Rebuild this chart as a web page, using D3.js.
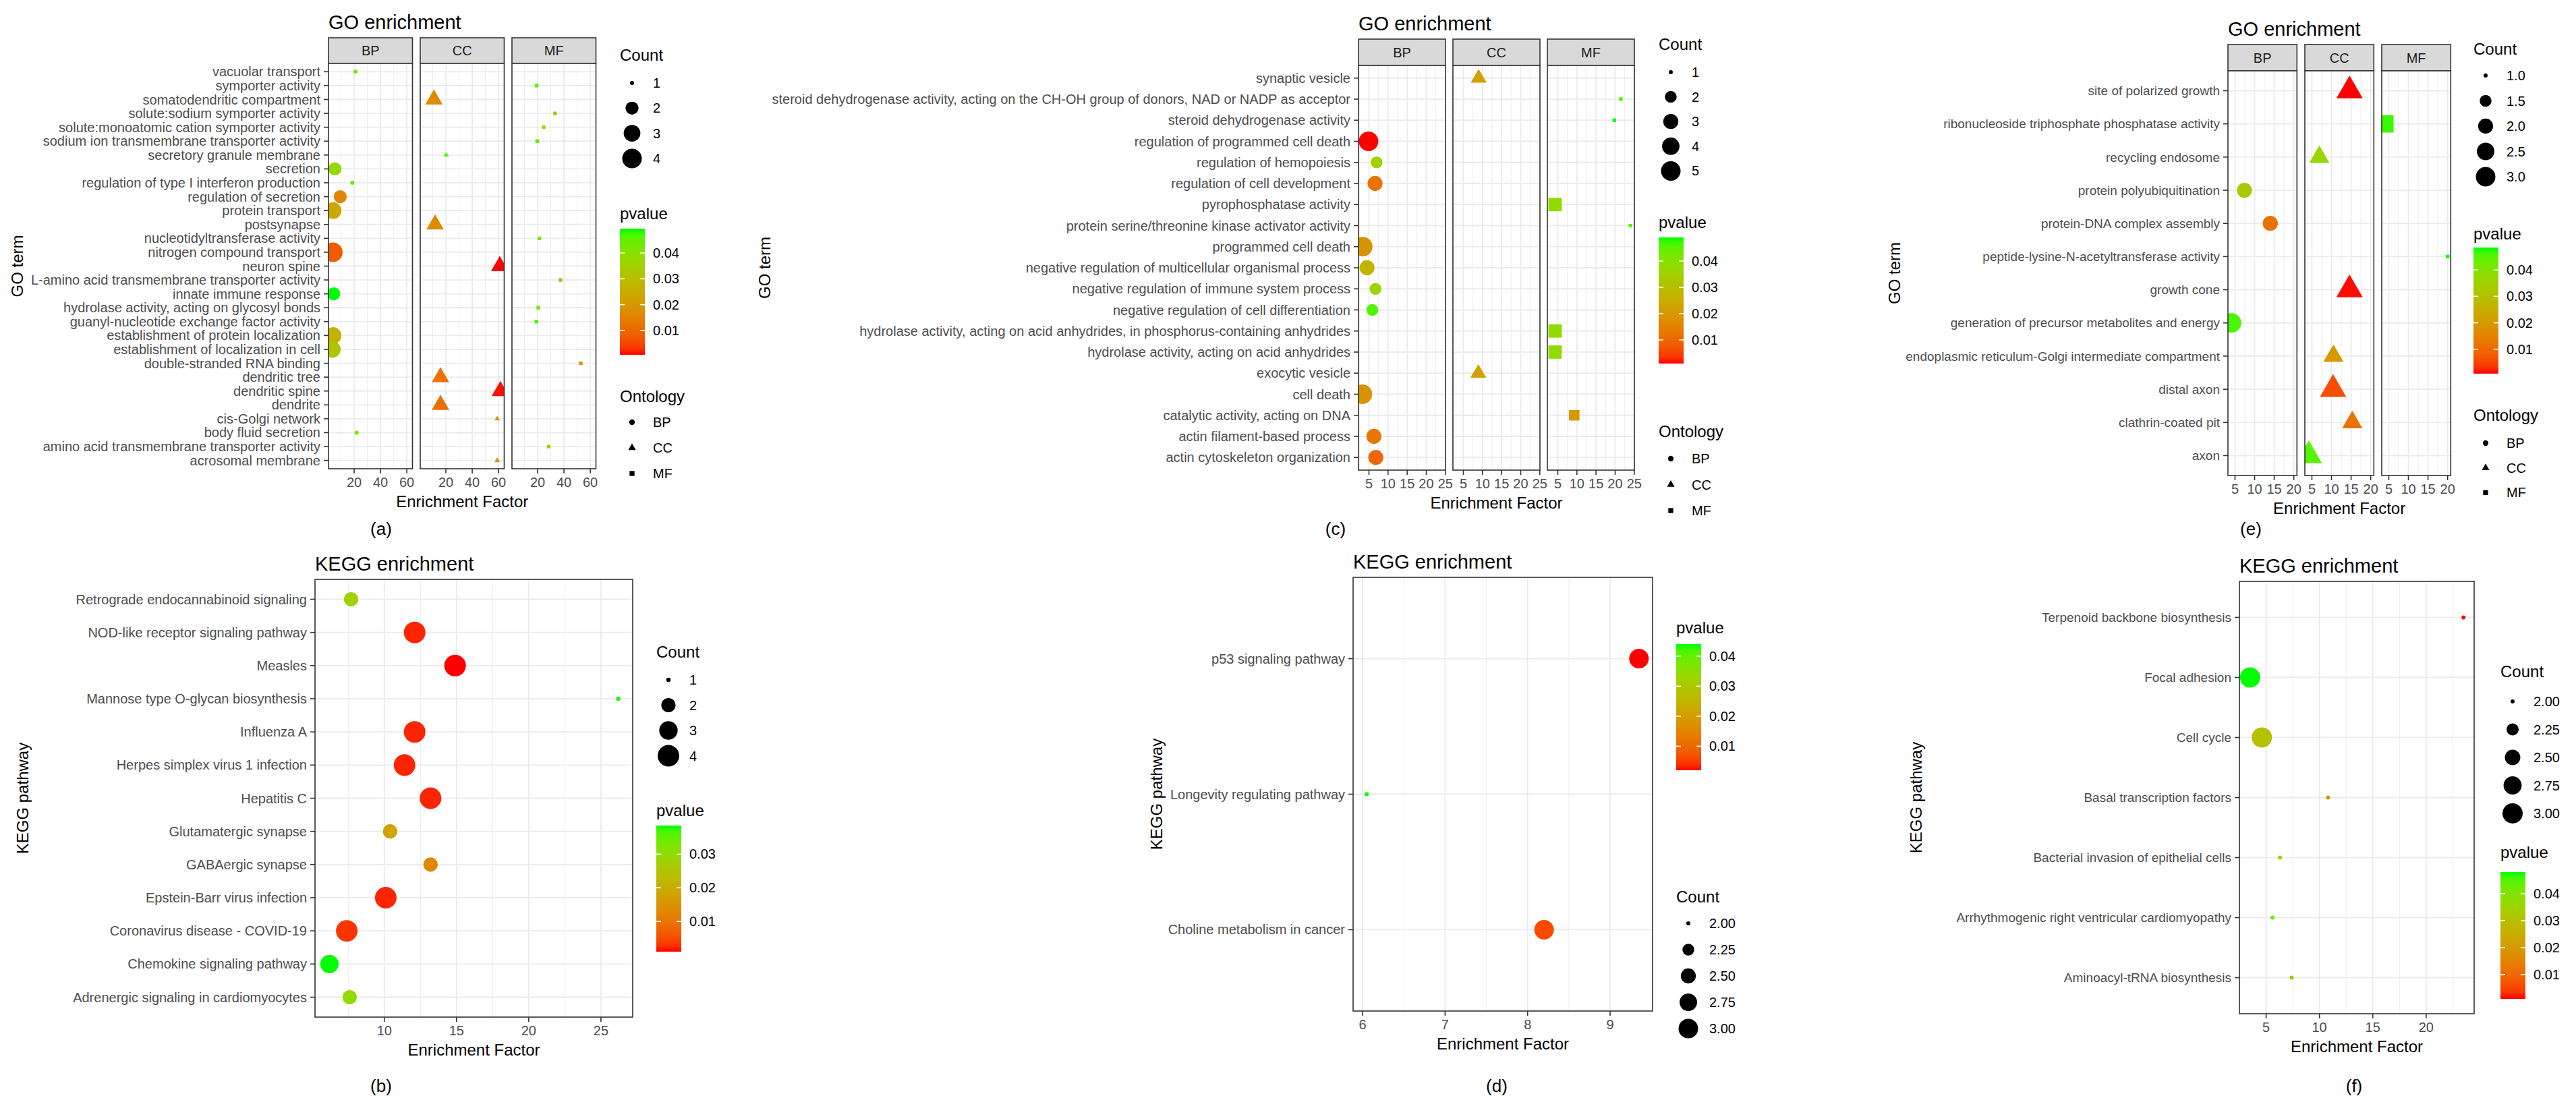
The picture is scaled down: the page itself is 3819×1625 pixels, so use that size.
<!DOCTYPE html>
<html><head><meta charset="utf-8">
<script src="https://cdn.jsdelivr.net/npm/d3@7/dist/d3.min.js"></script>
<style>
body{margin:0;background:#fff}
svg{display:block}
text{font-family:"Liberation Sans",Arial,sans-serif}
</style></head>
<body><svg id="chart" width="3819" height="1625"></svg>
<script>
// ---------------- DATA ----------------
// (a) GO enrichment
const aTerms = ["vacuolar transport","symporter activity","somatodendritic compartment","solute:sodium symporter activity","solute:monoatomic cation symporter activity","sodium ion transmembrane transporter activity","secretory granule membrane","secretion","regulation of type I interferon production","regulation of secretion","protein transport","postsynapse","nucleotidyltransferase activity","nitrogen compound transport","neuron spine","L-amino acid transmembrane transporter activity","innate immune response","hydrolase activity, acting on glycosyl bonds","guanyl-nucleotide exchange factor activity","establishment of protein localization","establishment of localization in cell","double-stranded RNA binding","dendritic tree","dendritic spine","dendrite","cis-Golgi network","body fluid secretion","amino acid transmembrane transporter activity","acrosomal membrane"];
const aOntology = ["BP","MF","CC","MF","MF","MF","CC","BP","BP","BP","BP","CC","MF","BP","CC","MF","BP","MF","MF","BP","BP","MF","CC","CC","CC","CC","BP","MF","CC"];
const aFactor = [21.0,19.3,10.9,33.2,24.6,19.7,20.3,5.4,18.6,9.4,4.0,11.8,21.4,3.8,60.9,37.3,4.5,20.5,19.1,3.9,3.4,52.8,15.9,61.4,15.9,59.0,21.9,28.4,59.0];
const aCount = [1,1,2,1,1,1,1,2,1,2,3,2,1,4,2,1,2,1,1,3,3,1,2,2,2,1,1,1,1];
const aPvalue = [0.044,0.046,0.017,0.030,0.036,0.044,0.046,0.038,0.046,0.016,0.024,0.017,0.040,0.008,0.0006,0.029,0.0494,0.043,0.047,0.027,0.032,0.020,0.012,0.001,0.011,0.020,0.042,0.034,0.020];
const aXTicks = [20,40,60];
const aCountBreaks = [1,2,3,4];
const aCountLabels = ["1","2","3","4"];
const aPTicks = [0.01,0.02,0.03,0.04];

// (b) KEGG enrichment
const bTerms = ["Retrograde endocannabinoid signaling","NOD-like receptor signaling pathway","Measles","Mannose type O-glycan biosynthesis","Influenza A","Herpes simplex virus 1 infection","Hepatitis C","Glutamatergic synapse","GABAergic synapse","Epstein-Barr virus infection","Coronavirus disease - COVID-19","Chemokine signaling pathway","Adrenergic signaling in cardiomyocytes"];
const bFactor = [7.7,12.1,14.9,26.2,12.1,11.4,13.2,10.4,13.2,10.1,7.4,6.2,7.6];
const bCount = [2,4,4,1,4,4,4,2,2,4,4,3,2];
const bPvalue = [0.028,0.002,0.001,0.038,0.002,0.002,0.002,0.018,0.013,0.002,0.003,0.0385,0.030];
const bXTicks = [10,15,20,25];
const bCountBreaks = [1,2,3,4];
const bCountLabels = ["1","2","3","4"];
const bPTicks = [0.01,0.02,0.03];

// (c) GO enrichment
const cTerms = ["synaptic vesicle","steroid dehydrogenase activity, acting on the CH-OH group of donors, NAD or NADP as acceptor","steroid dehydrogenase activity","regulation of programmed cell death","regulation of hemopoiesis","regulation of cell development","pyrophosphatase activity","protein serine/threonine kinase activator activity","programmed cell death","negative regulation of multicellular organismal process","negative regulation of immune system process","negative regulation of cell differentiation","hydrolase activity, acting on acid anhydrides, in phosphorus-containing anhydrides","hydrolase activity, acting on acid anhydrides","exocytic vesicle","cell death","catalytic activity, acting on DNA","actin filament-based process","actin cytoskeleton organization"];
const cOntology = ["CC","MF","MF","BP","BP","BP","MF","MF","BP","BP","BP","BP","MF","MF","CC","BP","MF","BP","BP"];
const cFactor = [9.0,21.5,19.8,4.9,7.0,6.6,4.3,24.0,3.4,4.5,6.7,5.9,4.3,4.3,8.9,3.3,9.3,6.3,6.8];
const cCount = [2,1,1,5,2,3,3,1,5,3,2,2,3,3,2,5,2,3,3];
const cPvalue = [0.022,0.046,0.049,0.001,0.035,0.012,0.038,0.046,0.019,0.027,0.036,0.046,0.038,0.038,0.022,0.019,0.020,0.013,0.010];
const cXTicks = [5,10,15,20,25];
const cCountBreaks = [1,2,3,4,5];
const cCountLabels = ["1","2","3","4","5"];
const cPTicks = [0.01,0.02,0.03,0.04];

// (d) KEGG enrichment
const dTerms = ["p53 signaling pathway","Longevity regulating pathway","Choline metabolism in cancer"];
const dFactor = [9.35,6.05,8.2];
const dCount = [3,2,3];
const dPvalue = [0.002,0.044,0.006];
const dXTicks = [6,7,8,9];
const dCountBreaks = [2,2.25,2.5,2.75,3];
const dCountLabels = ["2.00","2.25","2.50","2.75","3.00"];
const dPTicks = [0.01,0.02,0.03,0.04];

// (e) GO enrichment
const eTerms = ["site of polarized growth","ribonucleoside triphosphate phosphatase activity","recycling endosome","protein polyubiquitination","protein-DNA complex assembly","peptide-lysine-N-acetyltransferase activity","growth cone","generation of precursor metabolites and energy","endoplasmic reticulum-Golgi intermediate compartment","distal axon","clathrin-coated pit","axon"];
const eOntology = ["CC","MF","CC","BP","BP","MF","CC","BP","CC","CC","CC","CC"];
const eFactor = [14.6,4.0,6.9,7.4,14.0,20.0,14.6,4.1,10.5,10.4,15.3,4.2];
const eCount = [3,3,2,2,2,1,3,3,2,3,2,3];
const ePvalue = [0.0008,0.047,0.036,0.032,0.012,0.0484,0.001,0.046,0.020,0.006,0.012,0.045];
const eXTicks = [5,10,15,20];
const eCountBreaks = [1,1.5,2,2.5,3];
const eCountLabels = ["1.0","1.5","2.0","2.5","3.0"];
const ePTicks = [0.01,0.02,0.03,0.04];

// (f) KEGG enrichment
const fTerms = ["Terpenoid backbone biosynthesis","Focal adhesion","Cell cycle","Basal transcription factors","Bacterial invasion of epithelial cells","Arrhythmogenic right ventricular cardiomyopathy","Aminoacyl-tRNA biosynthesis"];
const fFactor = [23.5,3.5,4.6,10.8,6.3,5.6,7.4];
const fCount = [2,3,3,2,2,2,2];
const fPvalue = [0.001,0.048,0.030,0.020,0.034,0.043,0.031];
const fXTicks = [5,10,15,20];
const fCountBreaks = [2,2.25,2.5,2.75,3];
const fCountLabels = ["2.00","2.25","2.50","2.75","3.00"];
const fPTicks = [0.01,0.02,0.03,0.04];

const ontologyLevels = ["BP","CC","MF"];

// ---------------- LAYOUT ----------------
const svg = d3.select("#chart");
const GRID = "#EBEBEB", DARK = "#333333", AXT = "#4D4D4D";
const shapeOf = {BP: d3.symbolCircle, CC: d3.symbolTriangle, MF: d3.symbolSquare};
let clipId = 0;

function drawPlot(L, D) {
  const g = svg.append("g");
  const facets = L.facets;
  const y = d3.scalePoint().domain(D.terms).range([L.top, L.bottom]).padding(0.6);
  const ext = d3.extent(D.factor), span = ext[1] - ext[0];
  const x = d3.scaleLinear().domain([ext[0] - 0.05 * span, ext[1] + 0.05 * span]).range([0, L.facetW]);
  const color = d3.scaleLinear().domain(d3.extent(D.pvalue)).range(["#ff0000", "#00ff00"]).interpolate(d3.interpolateLab);
  const tC = d3.scaleLinear().domain(d3.extent(D.count)).range([0, 1]);
  const dia = d3.scaleSqrt().domain([0, 1]).range([L.dMin, L.dMax]);
  const areaOf = c => Math.PI * Math.pow(dia(tC(c)) / 2, 2);
  const [x0, x1] = x.domain();
  const majors = D.xTicks.filter(v => v >= x0 && v <= x1);
  const stp = D.xTicks[1] - D.xTicks[0];
  const minors = d3.range(D.xTicks[0] - stp / 2, x1 + stp, stp).filter(v => v >= x0 && v <= x1);
  const rows = D.terms.map((t, j) => ({t, o: D.ontology ? D.ontology[j] : "BP", f: D.factor[j], c: D.count[j], p: D.pvalue[j]}));
  const totalW = facets.length * L.facetW + (facets.length - 1) * L.gap;

  facets.forEach((fc, i) => {
    const fx = L.left + i * (L.facetW + L.gap);
    const fg = g.append("g").attr("transform", `translate(${fx},0)`);
    if (fc !== null) {
      fg.append("rect").attr("x", 0).attr("y", L.top - L.stripH).attr("width", L.facetW).attr("height", L.stripH)
        .attr("fill", "#D9D9D9").attr("stroke", DARK).attr("stroke-width", 1.6);
      fg.append("text").attr("x", L.facetW / 2).attr("y", L.top - L.stripH / 2).attr("dy", "0.35em")
        .attr("text-anchor", "middle").attr("font-size", 20).attr("fill", "#1A1A1A").text(fc);
    }
    fg.append("rect").attr("x", 0).attr("y", L.top).attr("width", L.facetW).attr("height", L.bottom - L.top).attr("fill", "#fff");
    fg.selectAll(".mn").data(minors).join("line").attr("x1", d => x(d)).attr("x2", d => x(d))
      .attr("y1", L.top).attr("y2", L.bottom).attr("stroke", GRID).attr("stroke-width", 0.9);
    fg.selectAll(".mj").data(majors).join("line").attr("x1", d => x(d)).attr("x2", d => x(d))
      .attr("y1", L.top).attr("y2", L.bottom).attr("stroke", GRID).attr("stroke-width", 1.8);
    fg.selectAll(".yl").data(D.terms).join("line").attr("x1", 0).attr("x2", L.facetW)
      .attr("y1", d => y(d)).attr("y2", d => y(d)).attr("stroke", GRID).attr("stroke-width", 1.8);
    const cid = "clip" + (clipId++);
    fg.append("clipPath").attr("id", cid).append("rect").attr("x", 0).attr("y", L.top).attr("width", L.facetW).attr("height", L.bottom - L.top);
    fg.append("g").attr("clip-path", `url(#${cid})`).selectAll("path")
      .data(rows.filter(r => fc === null || r.o === fc)).join("path")
      .attr("transform", r => `translate(${x(r.f)},${y(r.t)})`)
      .attr("d", r => d3.symbol(shapeOf[r.o], areaOf(r.c))())
      .attr("fill", r => color(r.p));
    fg.append("rect").attr("x", 0).attr("y", L.top).attr("width", L.facetW).attr("height", L.bottom - L.top)
      .attr("fill", "none").attr("stroke", DARK).attr("stroke-width", 1.6);
    fg.selectAll(".xt").data(majors).join("line").attr("x1", d => x(d)).attr("x2", d => x(d))
      .attr("y1", L.bottom).attr("y2", L.bottom + 7).attr("stroke", DARK).attr("stroke-width", 1.6);
    fg.selectAll(".xl").data(majors).join("text").attr("x", d => x(d)).attr("y", L.bottom + 27)
      .attr("text-anchor", "middle").attr("font-size", 20).attr("fill", AXT).text(d => d);
  });
  // y axis
  g.selectAll(".yt").data(D.terms).join("line").attr("x1", L.left - 7).attr("x2", L.left)
    .attr("y1", d => y(d)).attr("y2", d => y(d)).attr("stroke", DARK).attr("stroke-width", 1.6);
  const labs = g.selectAll(".ylab").data(D.terms).join("text").attr("x", L.left - 12).attr("y", d => y(d)).attr("dy", "0.35em")
    .attr("text-anchor", "end").attr("font-size", L.labelFont).attr("fill", AXT).text(d => d);
  let minX = L.left;
  labs.each(function () { minX = Math.min(minX, L.left - 12 - this.getComputedTextLength()); });
  const yTitleX = L.yTitleX !== undefined ? L.yTitleX : minX - L.yTitleGap;
  // titles
  const titleTop = facets[0] !== null ? L.top - L.stripH : L.top;
  g.append("text").attr("x", L.left).attr("y", titleTop - 13).attr("font-size", 29).attr("fill", "#000").text(L.title);
  g.append("text").attr("x", L.left + totalW / 2).attr("y", L.bottom + 57).attr("text-anchor", "middle")
    .attr("font-size", 24).attr("fill", "#000").text("Enrichment Factor");
  g.append("text").attr("transform", `translate(${yTitleX},${(L.top + L.bottom) / 2}) rotate(-90)`).attr("dy", "0.35em")
    .attr("text-anchor", "middle").attr("font-size", 24).attr("fill", "#000").text(L.yTitle);
  g.append("text").attr("x", L.sub[0]).attr("y", L.sub[1]).attr("dy", "0.35em").attr("text-anchor", "middle")
    .attr("font-size", 26).attr("fill", "#000").text(L.subText);

  // legends
  const lx = L.legendX;
  const LG = L.leg;
  g.append("text").attr("x", lx).attr("y", LG.countTitle).attr("font-size", 24).attr("fill", "#000").text("Count");
  D.countBreaks.forEach((b, k) => {
    const ky = LG.countKey0 + k * LG.countStep;
    g.append("path").attr("transform", `translate(${lx + 18},${ky})`).attr("d", d3.symbol(d3.symbolCircle, areaOf(b))()).attr("fill", "#000");
    g.append("text").attr("x", lx + 49).attr("y", ky).attr("dy", "0.35em").attr("font-size", 20).attr("fill", "#000").text(D.countLabels[k]);
  });
  g.append("text").attr("x", lx).attr("y", LG.pTitle).attr("font-size", 24).attr("fill", "#000").text("pvalue");
  const barW = 37, barTop = LG.barTop, barH = LG.barH;
  const py = d3.scaleLinear().domain(color.domain()).range([barTop + barH, barTop]);
  const gid = "grad" + (clipId++);
  const grad = g.append("linearGradient").attr("id", gid).attr("x1", 0).attr("y1", 1).attr("x2", 0).attr("y2", 0);
  d3.range(0, 1.0001, 0.05).forEach(t => {
    const v = color.domain()[0] + t * (color.domain()[1] - color.domain()[0]);
    grad.append("stop").attr("offset", t).attr("stop-color", color(v));
  });
  g.append("rect").attr("x", lx).attr("y", barTop).attr("width", barW).attr("height", barH).attr("fill", `url(#${gid})`);
  D.pTicks.forEach(v => {
    const ty = py(v);
    g.append("line").attr("x1", lx).attr("x2", lx + 7).attr("y1", ty).attr("y2", ty).attr("stroke", "#fff").attr("stroke-width", 1.6);
    g.append("line").attr("x1", lx + barW - 7).attr("x2", lx + barW).attr("y1", ty).attr("y2", ty).attr("stroke", "#fff").attr("stroke-width", 1.6);
    g.append("text").attr("x", lx + 49).attr("y", ty).attr("dy", "0.35em").attr("font-size", 20).attr("fill", "#000").text(v.toFixed(2));
  });
  if (LG.ontTitle) {
    g.append("text").attr("x", lx).attr("y", LG.ontTitle).attr("font-size", 24).attr("fill", "#000").text("Ontology");
    ontologyLevels.forEach((o, k) => {
      const ky = LG.ontKey0 + k * LG.ontStep;
      g.append("path").attr("transform", `translate(${lx + 18},${ky})`).attr("d", d3.symbol(shapeOf[o], Math.PI * 4.15 * 4.15)()).attr("fill", "#000");
      g.append("text").attr("x", lx + 49).attr("y", ky).attr("dy", "0.35em").attr("font-size", 20).attr("fill", "#000").text(o);
    });
  }
}

const F3 = ["BP", "CC", "MF"];
drawPlot({title: "GO enrichment", yTitle: "GO term", subText: "(a)", facets: F3, left: 487, top: 94, bottom: 695, facetW: 124.5, gap: 11.5, stripH: 38,
  labelFont: 20, dMin: 6, dMax: 29, yTitleX: 26, sub: [565, 784], legendX: 919,
  leg: {countTitle: 90, countKey0: 123, countStep: 37.3, pTitle: 325, barTop: 339, barH: 187, ontTitle: 596, ontKey0: 626, ontStep: 38}},
  {terms: aTerms, ontology: aOntology, factor: aFactor, count: aCount, pvalue: aPvalue, xTicks: aXTicks, countBreaks: aCountBreaks, countLabels: aCountLabels, pTicks: aPTicks});

drawPlot({title: "KEGG enrichment", yTitle: "KEGG pathway", subText: "(b)", facets: [null], left: 467, top: 859, bottom: 1508, facetW: 471, gap: 0, stripH: 0,
  labelFont: 20, dMin: 6.5, dMax: 32, yTitleX: 34, sub: [565, 1610], legendX: 973,
  leg: {countTitle: 975, countKey0: 1008, countStep: 37.5, pTitle: 1210, barTop: 1224, barH: 187}},
  {terms: bTerms, factor: bFactor, count: bCount, pvalue: bPvalue, xTicks: bXTicks, countBreaks: bCountBreaks, countLabels: bCountLabels, pTicks: bPTicks});

drawPlot({title: "GO enrichment", yTitle: "GO term", subText: "(c)", facets: F3, left: 2014, top: 97, bottom: 697, facetW: 129, gap: 11, stripH: 39,
  labelFont: 20, dMin: 6, dMax: 29, yTitleX: 1134, sub: [1980, 784], legendX: 2459,
  leg: {countTitle: 74, countKey0: 107, countStep: 36.6, pTitle: 338, barTop: 352, barH: 187, ontTitle: 648, ontKey0: 680, ontStep: 38.5}},
  {terms: cTerms, ontology: cOntology, factor: cFactor, count: cCount, pvalue: cPvalue, xTicks: cXTicks, countBreaks: cCountBreaks, countLabels: cCountLabels, pTicks: cPTicks});

drawPlot({title: "KEGG enrichment", yTitle: "KEGG pathway", subText: "(d)", facets: [null], left: 2006, top: 856, bottom: 1499, facetW: 444, gap: 0, stripH: 0,
  labelFont: 20, dMin: 6, dMax: 29, yTitleX: 1715, sub: [2219, 1610], legendX: 2485,
  leg: {countTitle: 1338, countKey0: 1369, countStep: 39, pTitle: 939, barTop: 955, barH: 187}},
  {terms: dTerms, factor: dFactor, count: dCount, pvalue: dPvalue, xTicks: dXTicks, countBreaks: dCountBreaks, countLabels: dCountLabels, pTicks: dPTicks});

drawPlot({title: "GO enrichment", yTitle: "GO term", subText: "(e)", facets: F3, left: 3303, top: 105, bottom: 705, facetW: 102.3, gap: 11.7, stripH: 39,
  labelFont: 19, dMin: 6, dMax: 29, yTitleGap: 17, sub: [3337, 784], legendX: 3667,
  leg: {countTitle: 81, countKey0: 112, countStep: 37.5, pTitle: 355, barTop: 367, barH: 187, ontTitle: 624, ontKey0: 657, ontStep: 36.7}},
  {terms: eTerms, ontology: eOntology, factor: eFactor, count: eCount, pvalue: ePvalue, xTicks: eXTicks, countBreaks: eCountBreaks, countLabels: eCountLabels, pTicks: ePTicks});

drawPlot({title: "KEGG enrichment", yTitle: "KEGG pathway", subText: "(f)", facets: [null], left: 3320, top: 862, bottom: 1503, facetW: 348, gap: 0, stripH: 0,
  labelFont: 19, dMin: 6, dMax: 30, yTitleGap: 60, sub: [3490, 1610], legendX: 3707,
  leg: {countTitle: 1004, countKey0: 1040, countStep: 41.5, pTitle: 1272, barTop: 1293, barH: 188}},
  {terms: fTerms, factor: fFactor, count: fCount, pvalue: fPvalue, xTicks: fXTicks, countBreaks: fCountBreaks, countLabels: fCountLabels, pTicks: fPTicks});
</script>
</body></html>
